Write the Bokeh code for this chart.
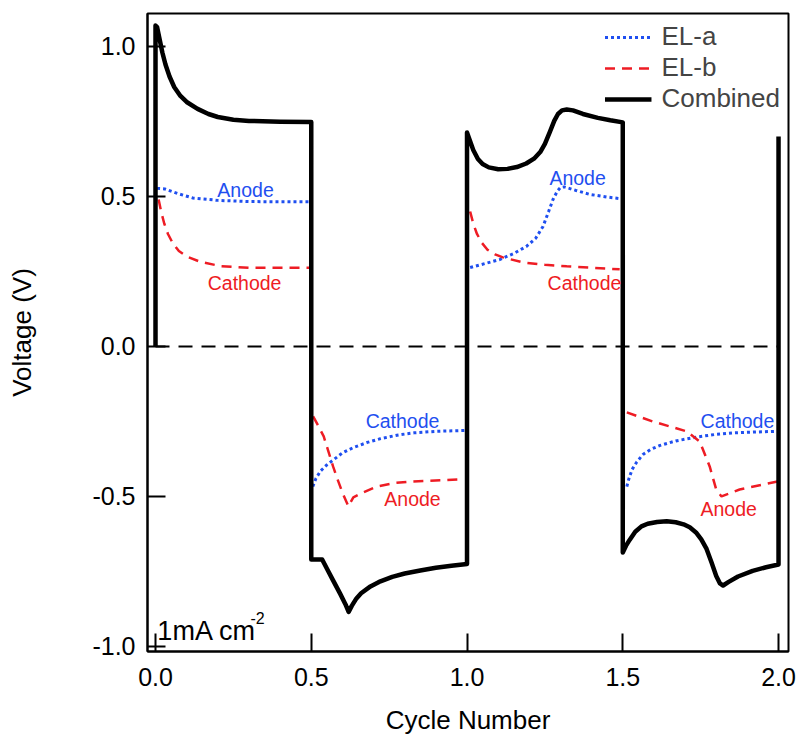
import math
from bokeh.plotting import figure
from bokeh.models import Legend, LegendItem, FixedTicker, PrintfTickFormatter, Range1d
from bokeh.core.properties import value
from bokeh.embed import file_html
from bokeh.resources import INLINE

FONT = "Liberation Sans"

# ---------------- data ----------------
combined_x = [0.0, 0.0, 0.005, 0.012, 0.022, 0.032, 0.045, 0.06, 0.08, 0.1, 0.135, 0.17, 0.2, 0.25, 0.3, 0.4, 0.5,
              0.5, 0.535, 0.55, 0.57, 0.593, 0.61, 0.62, 0.63, 0.645, 0.66, 0.69, 0.722, 0.76, 0.8, 0.85, 0.9, 0.95, 1.0,
              1.0, 1.008, 1.02, 1.035, 1.05, 1.07, 1.1, 1.13, 1.16, 1.19, 1.215, 1.235, 1.25, 1.266, 1.28, 1.292,
              1.305, 1.32, 1.34, 1.372, 1.42, 1.46, 1.5,
              1.5, 1.51, 1.522, 1.54, 1.56, 1.58, 1.61, 1.641, 1.67, 1.695, 1.715, 1.735, 1.752, 1.769, 1.785,
              1.8, 1.812, 1.822, 1.84, 1.87, 1.917, 1.96, 2.0,
              2.0]
combined_y = [0.0, 1.07, 1.065, 1.03, 0.98, 0.94, 0.9, 0.865, 0.835, 0.815, 0.792, 0.775, 0.765, 0.756, 0.752, 0.749, 0.748,
              -0.71, -0.71, -0.74, -0.78, -0.825, -0.86, -0.885, -0.865, -0.84, -0.823, -0.8, -0.783, -0.768, -0.757, -0.747, -0.738, -0.731, -0.725,
              0.713, 0.69, 0.655, 0.625, 0.608, 0.597, 0.591, 0.592, 0.598, 0.61, 0.626, 0.648, 0.675, 0.715, 0.752, 0.775,
              0.787, 0.79, 0.787, 0.775, 0.762, 0.754, 0.747,
              -0.687, -0.665, -0.645, -0.618, -0.6, -0.591, -0.585, -0.583, -0.586, -0.593, -0.603, -0.62, -0.643, -0.675, -0.72,
              -0.765, -0.79, -0.797, -0.785, -0.767, -0.748, -0.736, -0.727,
              0.70]

# EL-a (blue dotted), four segments
ela_x = [[0.005, 0.03, 0.07, 0.12, 0.2, 0.3, 0.5],
         [0.505, 0.515, 0.53, 0.55, 0.575, 0.6, 0.635, 0.68, 0.72, 0.78, 0.83, 0.9, 0.995],
         [1.01, 1.06, 1.106, 1.15, 1.19, 1.22, 1.244, 1.262, 1.276, 1.29, 1.3, 1.312, 1.35, 1.394, 1.45, 1.49],
         [1.513, 1.52, 1.53, 1.545, 1.565, 1.59, 1.62, 1.67, 1.737, 1.8, 1.853, 1.99]]
ela_y = [[0.527, 0.525, 0.51, 0.495, 0.487, 0.483, 0.482],
         [-0.467, -0.44, -0.415, -0.395, -0.375, -0.355, -0.337, -0.32, -0.308, -0.295, -0.288, -0.283, -0.28],
         [0.263, 0.277, 0.29, 0.31, 0.333, 0.36, 0.4, 0.45, 0.49, 0.518, 0.53, 0.532, 0.52, 0.507, 0.498, 0.493],
         [-0.467, -0.44, -0.41, -0.385, -0.36, -0.343, -0.33, -0.315, -0.302, -0.293, -0.288, -0.283]]

# EL-b (red dashed), four segments
elb_x = [[0.01, 0.018, 0.028, 0.04, 0.055, 0.075, 0.1, 0.144, 0.208, 0.3, 0.5],
         [0.506, 0.52, 0.54, 0.555, 0.57, 0.585, 0.6, 0.619, 0.635, 0.66, 0.71, 0.77, 0.827, 0.985],
         [1.01, 1.02, 1.032, 1.048, 1.065, 1.09, 1.115, 1.18, 1.25, 1.32, 1.49],
         [1.513, 1.596, 1.705, 1.747, 1.779, 1.8, 1.817, 1.875, 1.997]]
elb_y = [[0.49, 0.45, 0.41, 0.375, 0.345, 0.318, 0.3, 0.282, 0.268, 0.262, 0.262],
         [-0.233, -0.26, -0.3, -0.35, -0.4, -0.445, -0.487, -0.533, -0.503, -0.49, -0.467, -0.455, -0.45, -0.443],
         [0.45, 0.41, 0.375, 0.345, 0.323, 0.307, 0.297, 0.28, 0.272, 0.267, 0.257],
         [-0.22, -0.25, -0.283, -0.317, -0.4, -0.477, -0.5, -0.477, -0.45]]

zero_x = [0.0, 2.0]
zero_y = [0.0, 0.0]

x_ticks = [0.0, 0.5, 1.0, 1.5, 2.0]
y_ticks = [-1.0, -0.5, 0.0, 0.5, 1.0]

blue_labels = ["Anode", "Cathode", "Anode", "Cathode"]
blue_lx = [0.289, 0.793, 1.355, 1.868]
blue_ly = [0.52, -0.25, 0.56, -0.25]
red_labels = ["Cathode", "Anode", "Cathode", "Anode"]
red_lx = [0.286, 0.825, 1.377, 1.84]
red_ly = [0.21, -0.507, 0.21, -0.543]

BLUE = "#1f4ff0"
RED = "#ee1c24"


def join(segs):
    out = []
    for i, s in enumerate(segs):
        if i:
            out.append(float("nan"))
        out.extend(s)
    return out


p = figure(width=798, height=744, output_backend="svg", toolbar_location=None,
           x_range=Range1d(-0.0257, 2.032), y_range=Range1d(-1.017, 1.11),
           min_border_left=147, min_border_right=10, min_border_top=13, min_border_bottom=93)
p.xgrid.visible = False
p.ygrid.visible = False
p.outline_line_color = "black"
p.outline_line_width = 2
p.background_fill_color = "white"
p.border_fill_color = "white"

for ax in (p.xaxis[0], p.yaxis[0]):
    ax.axis_line_width = 2
    ax.axis_line_color = "black"
    ax.major_tick_in = 18
    ax.major_tick_out = 0
    ax.major_tick_line_width = 2
    ax.minor_tick_line_color = None
    ax.major_label_text_font = FONT
    ax.major_label_text_font_size = "25px"
    ax.major_label_text_color = "black"
    ax.axis_label_text_font = FONT
    ax.axis_label_text_font_size = "26px"
    ax.axis_label_text_font_style = "normal"
    ax.axis_label_text_color = "black"
    ax.formatter = PrintfTickFormatter(format="%.1f")

p.xaxis[0].ticker = FixedTicker(ticks=x_ticks)
p.yaxis[0].ticker = FixedTicker(ticks=y_ticks)
p.xaxis[0].axis_label = "Cycle Number"
p.yaxis[0].axis_label = "Voltage (V)"
p.xaxis[0].major_label_standoff = 16
p.xaxis[0].axis_label_standoff = 16
p.yaxis[0].major_label_standoff = 12
p.yaxis[0].axis_label_standoff = 52

# zero line
p.line(zero_x, zero_y, line_color="black", line_width=2, line_dash="14 9")

r_a = p.line(join(ela_x), join(ela_y), line_color=BLUE, line_width=3, line_dash="3 3")
r_b = p.line(join(elb_x), join(elb_y), line_color=RED, line_width=2.5, line_dash="10 7")
r_c = p.line(combined_x, combined_y, line_color="black", line_width=4.5, line_join="round")

p.text(blue_lx, blue_ly, text=blue_labels, text_color=BLUE, text_font=value(FONT),
       text_font_size="19.5px", text_align="center", text_baseline="middle")
p.text(red_lx, red_ly, text=red_labels, text_color=RED, text_font=value(FONT),
       text_font_size="19.5px", text_align="center", text_baseline="middle")

p.text([0.006], [-0.947], text=["1mA cm"], text_color="black", text_font=value(FONT),
       text_font_size="27px", text_align="left", text_baseline="middle")
p.text([0.305], [-0.905], text=["-2"], text_color="black", text_font=value(FONT),
       text_font_size="16px", text_align="left", text_baseline="middle")

legend = Legend(items=[LegendItem(label="EL-a", renderers=[r_a]),
                       LegendItem(label="EL-b", renderers=[r_b]),
                       LegendItem(label="Combined", renderers=[r_c])],
                location="top_right", margin=4, padding=4,
                background_fill_alpha=0, border_line_alpha=0,
                label_text_font=FONT, label_text_font_size="26px",
                glyph_width=47, glyph_height=24, label_height=24, spacing=0,
                label_standoff=10)
p.add_layout(legend, "center")

open("out.html", "w").write(file_html(p, INLINE))
